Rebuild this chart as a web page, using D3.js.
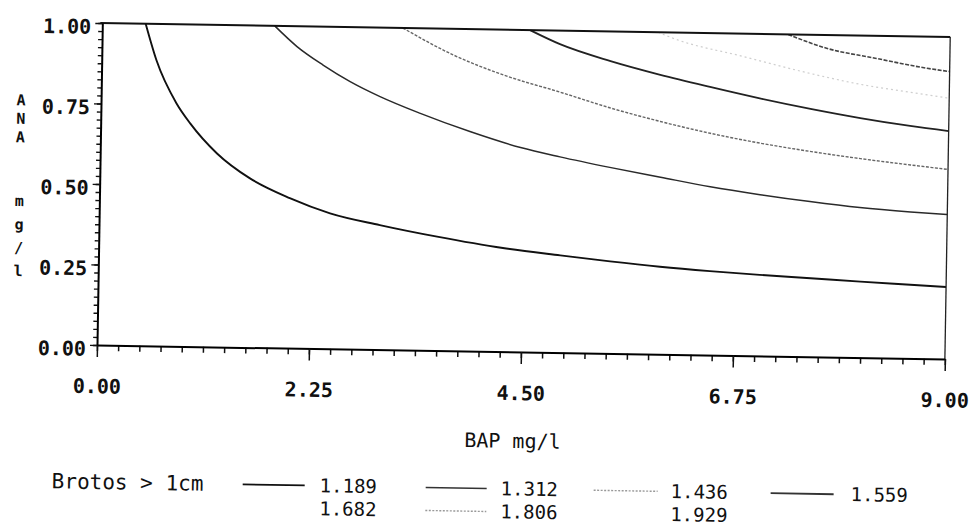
<!DOCTYPE html>
<html><head><meta charset="utf-8">
<script src="https://cdn.jsdelivr.net/npm/d3@7"></script>
<style>
html,body{margin:0;padding:0;background:#fff;}
svg{display:block;}
text{font-family:"DejaVu Sans Mono",monospace;fill:#111;}
</style></head><body>
<svg id="chart" width="971" height="527"></svg>
<script>
// ---- data ----
const levelLabels = ["1.189", "1.312", "1.436", "1.559", "1.682", "1.806", "1.929"];
// contour lines: [BAP mg/l, ANA mg/l]
const c1189 = [[0.46,1.0],[0.58,0.888],[0.80,0.755],[0.95,0.693],[1.24,0.601],[1.59,0.526],[2.02,0.466],[2.45,0.421],[2.98,0.387],[3.59,0.354],[4.29,0.322],[4.90,0.302],[5.43,0.286],[5.96,0.272],[6.49,0.261],[7.02,0.252],[7.56,0.244],[8.09,0.236],[8.62,0.229],[9.0,0.224]];
const c1312 = [[1.83,1.0],[2.07,0.937],[2.35,0.881],[2.64,0.831],[2.96,0.786],[3.39,0.736],[3.92,0.682],[4.46,0.635],[4.88,0.608],[5.41,0.578],[5.95,0.550],[6.48,0.523],[7.01,0.501],[7.54,0.482],[8.07,0.466],[8.61,0.455],[9.0,0.449]];
const c1436 = [[3.19,1.0],[3.73,0.919],[4.27,0.859],[4.87,0.809],[5.40,0.763],[5.94,0.723],[6.47,0.689],[7.00,0.661],[7.53,0.638],[8.07,0.618],[8.60,0.601],[9.0,0.589]];
const c1559 = [[4.54,1.0],[4.86,0.958],[5.40,0.908],[5.93,0.868],[6.46,0.833],[6.99,0.800],[7.53,0.770],[8.06,0.744],[8.59,0.722],[9.0,0.708]];
const c1682 = [[5.90,1.0],[6.06,0.982],[6.81,0.929],[7.52,0.880],[8.05,0.849],[8.58,0.827],[9.0,0.810]];
const c1806 = [[7.28,1.0],[7.69,0.959],[8.22,0.930],[8.76,0.902],[9.0,0.893]];
const c1929 = [];
const contours = [c1189, c1312, c1436, c1559, c1682, c1806, c1929];

const xMajorTicks = [0, 2.25, 4.5, 6.75, 9];
const yMajorTicks = [0, 0.25, 0.5, 0.75, 1];
const xTitle = "BAP mg/l";
const yTitleWords = ["ANA", "mg/l"];
const legendTitle = "Brotos > 1cm";

// ---- styles ----
const styles = [
  {stroke:"#111", width:1.9, dash:null},
  {stroke:"#2a2a2a", width:1.5, dash:null},
  {stroke:"#666", width:1.4, dash:"3,1.5"},
  {stroke:"#222", width:1.8, dash:null},
  {stroke:"#cfcfcf", width:1.2, dash:"2,3"},
  {stroke:"#444", width:1.6, dash:"4,1.5"},
  {stroke:"none", width:0, dash:null}
];
const legendStyles = [
  {stroke:"#111", width:1.8, dash:null},
  {stroke:"#333", width:1.5, dash:null},
  {stroke:"#999", width:1.4, dash:"2,1.5"},
  {stroke:"#333", width:1.8, dash:null},
  null,
  {stroke:"#999", width:1.4, dash:"2,1.5"},
  null
];

// ---- layout ----
const L = 97, R = 945, T = 23, B = 345;
const svg = d3.select("#chart");
svg.append("rect").attr("width",971).attr("height",527).attr("fill","#fff");
const g = svg.append("g").attr("transform", `rotate(0.95,${L},${B})`);

const x = d3.scaleLinear().domain([0, 9]).range([L, R]);
const y = d3.scaleLinear().domain([0, 1]).range([B, T]);

svg.append("defs").append("clipPath").attr("id","plotclip")
  .append("rect").attr("x", L).attr("y", T).attr("width", R - L).attr("height", B - T);

// contour curves
const line = d3.line().x(d => x(d[0])).y(d => y(d[1])).curve(d3.curveMonotoneX);
const cg = g.append("g").attr("clip-path","url(#plotclip)");
contours.forEach((pts, i) => {
  if (!pts.length) return;
  const s = styles[i];
  cg.append("path").datum(pts).attr("d", line)
    .attr("fill","none").attr("stroke", s.stroke).attr("stroke-width", s.width)
    .attr("stroke-dasharray", s.dash).attr("stroke-linejoin","round");
});

// frame: top and right
g.append("line").attr("x1", L - 2).attr("x2", R).attr("y1", T).attr("y2", T)
  .attr("stroke","#111").attr("stroke-width",2);
g.append("line").attr("x1", R).attr("x2", R).attr("y1", T).attr("y2", B)
  .attr("stroke","#222").attr("stroke-width",1.3);

// x axis
const xMinor = d3.range(0, 41).map(i => i * 0.225);
const xMinorAxis = g.append("g").attr("transform", `translate(0,${B})`)
  .call(d3.axisBottom(x).tickValues(xMinor).tickSize(6).tickSizeOuter(0).tickFormat(""));
xMinorAxis.select(".domain").remove();
const xAxis = g.append("g").attr("transform", `translate(0,${B})`)
  .call(d3.axisBottom(x).tickValues(xMajorTicks).tickSize(12).tickSizeOuter(0)
    .tickPadding(22).tickFormat(d3.format(".2f")));
xAxis.select(".domain").attr("stroke-width", 2);
[xMinorAxis, xAxis].forEach(a => a.selectAll(".tick line").attr("stroke","#111").attr("stroke-width",1.5));
xAxis.selectAll("text").attr("font-size", 20).attr("font-weight","bold")
  .attr("font-family","DejaVu Sans Mono").attr("fill","#111");

// y axis
const yMinor = d3.range(0, 41).map(i => i * 0.025);
const yMinorAxis = g.append("g").attr("transform", `translate(${L},0)`)
  .call(d3.axisLeft(y).tickValues(yMinor).tickSize(4).tickSizeOuter(0).tickFormat(""));
yMinorAxis.select(".domain").remove();
const yAxis = g.append("g").attr("transform", `translate(${L},0)`)
  .call(d3.axisLeft(y).tickValues(yMajorTicks).tickSize(7).tickSizeOuter(0)
    .tickPadding(4).tickFormat(d3.format(".2f")));
yAxis.select(".domain").attr("stroke-width", 2);
[yMinorAxis, yAxis].forEach(a => a.selectAll(".tick line").attr("stroke","#111").attr("stroke-width",1.4));
yAxis.selectAll("text").attr("font-size", 20).attr("font-weight","bold")
  .attr("font-family","DejaVu Sans Mono").attr("fill","#111").attr("dy","0.52em");

// axis titles
g.append("text").attr("x", 514).attr("y", 441).attr("text-anchor","middle")
  .attr("font-size", 20).text(xTitle);
const yStarts = [101, 202], ySteps = [18.5, 23.3];
yTitleWords.forEach((w, wi) => {
  w.split("").forEach((ch, ci) => {
    g.append("text").attr("x", 17).attr("y", yStarts[wi] + ci * ySteps[wi] + 5.5)
      .attr("text-anchor","middle").attr("font-size", 15).attr("font-weight","bold").text(ch);
  });
});

// legend
const rowY = [482, 505];
const lineX0 = [245, 428, 596, 773], lineX1 = [307, 489, 660, 836], textX = [322, 503, 673, 853];
g.append("text").attr("x", 54).attr("y", rowY[0] + 7).attr("font-size", 21).text(legendTitle);
levelLabels.forEach((lab, i) => {
  const row = i < 4 ? 0 : 1, col = i % 4, s = legendStyles[i];
  if (s) {
    g.append("line").attr("x1", lineX0[col]).attr("x2", lineX1[col])
      .attr("y1", rowY[row]).attr("y2", rowY[row])
      .attr("stroke", s.stroke).attr("stroke-width", s.width).attr("stroke-dasharray", s.dash);
  }
  g.append("text").attr("x", textX[col]).attr("y", rowY[row] + 6.5).attr("font-size", 19).text(lab);
});
</script>
</body></html>
